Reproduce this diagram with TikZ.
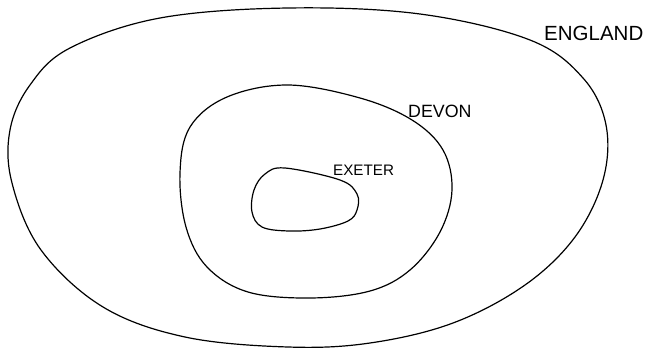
\documentclass[tikz,border=0pt]{standalone}
\usepackage{fontspec}
\setmainfont{Liberation Sans}
\begin{document}
\begin{tikzpicture}[x=1pt,y=-1pt,
  region/.style={draw=black,line width=1.2pt,line join=round},
  lbl/.style={inner sep=0pt,anchor=base west,text=black}]
\useasboundingbox (0,0) rectangle (645,348);
% England
\draw[region] plot[smooth cycle,tension=0.6] coordinates{
 (288,8) (420,14) (530,40) (583,78) (606,125) (603,180) (575,237)
 (525,285) (453,323) (370,343) (288,347) (185,337) (103,307) (41,250)
 (12,183) (10,130) (30,85) (70,48) (160,18)};
% Devon
\draw[region] plot[smooth cycle,tension=0.6] coordinates{
 (288,85) (360,98) (412,120) (443,150) (452,190) (440,232) (410,270)
 (370,291) (310,298) (248,292) (207,267) (186,227) (180,173)
 (190,127) (227,97)};
% Exeter
\draw[region] plot[smooth cycle,tension=0.6] coordinates{
 (285,168) (340,180) (357,194) (357,210) (348,221) (320,229) (289,231)
 (262,227) (252,212) (254,190) (265,174)};
\node[lbl,font=\fontsize{20.5}{24}\selectfont] (england) at (544,40) {ENGLAND};
\node[lbl,font=\fontsize{17.8}{21}\selectfont] (devon) at (408,117) {DEVON};
\node[lbl,font=\fontsize{15.2}{18}\selectfont] (exeter) at (333,175) {EXETER};
\end{tikzpicture}
\end{document}
